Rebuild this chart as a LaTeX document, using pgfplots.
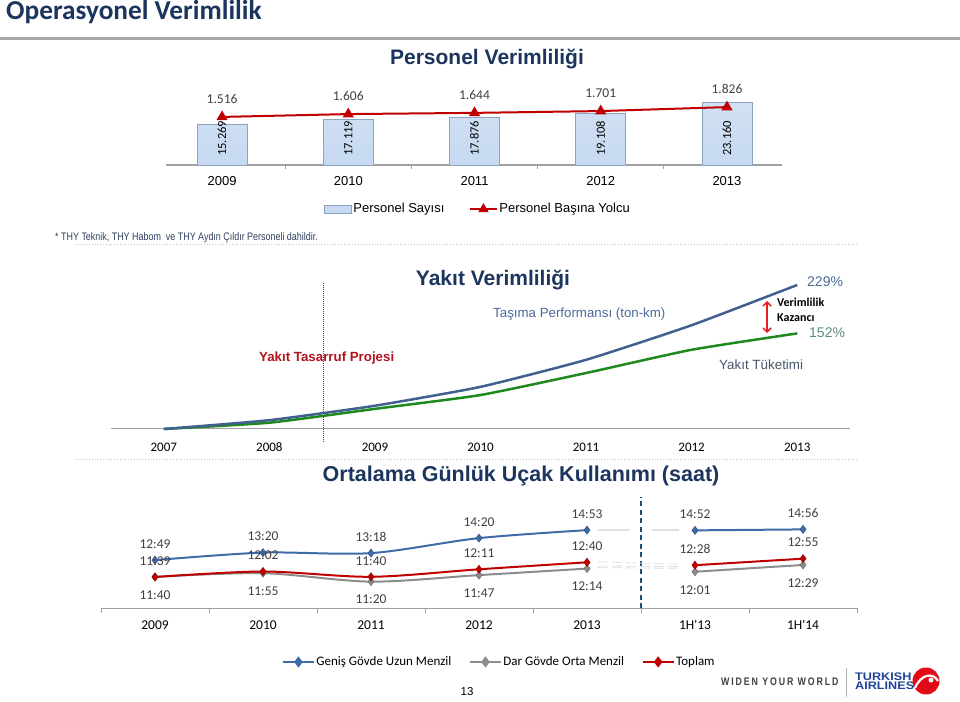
\documentclass[border=0pt]{standalone}
\usepackage{fontspec}
\setmainfont{Liberation Sans}
\newfontfamily\calfam{Carlito}
\newfontfamily\narrowfam[FakeStretch=0.82]{Liberation Sans}
\newfontfamily\logofam[FakeStretch=0.8,LetterSpace=17]{Liberation Sans}
\newfontfamily\widefam[FakeStretch=1.15]{Liberation Sans}
\usepackage{pgfplots}
\pgfplotsset{compat=1.18}
\usetikzlibrary{arrows.meta}

\newcommand\ar[1]{\fontsize{#1}{#1}\selectfont}
\newcommand\arb[1]{\bfseries\fontsize{#1}{#1}\selectfont}
\newcommand\cf[1]{\calfam\fontsize{#1}{#1}\selectfont}
\newcommand\cfb[1]{\calfam\bfseries\fontsize{#1}{#1}\selectfont}

\definecolor{navy}{HTML}{1C355E}
\definecolor{rulegray}{HTML}{A6A6A6}
\definecolor{axgray}{HTML}{A0A0A0}
\definecolor{barfill}{HTML}{C6D9F1}
\definecolor{bardraw}{HTML}{8DA3BF}
\definecolor{thyred}{HTML}{C00000}
\definecolor{tonblue}{HTML}{41608F}
\definecolor{fuelgreen}{HTML}{1E8A1E}
\definecolor{lblblue}{HTML}{4A6A9A}
\definecolor{lblgreen}{HTML}{5A8F75}
\definecolor{slate}{HTML}{44546A}
\definecolor{arrowred}{HTML}{E31E24}
\definecolor{projred}{HTML}{B0141E}
\definecolor{wbblue}{HTML}{3E6CA8}
\definecolor{nbgray}{HTML}{8C8C8C}
\definecolor{txtgray}{HTML}{404040}
\definecolor{dashblue}{HTML}{1F4E79}
\definecolor{footblue}{HTML}{2E3F5F}
\definecolor{thyblue}{HTML}{1F4496}
\definecolor{logored}{HTML}{E30A17}

\begin{document}
\begin{tikzpicture}[x=1pt,y=1pt]
\useasboundingbox (0,0) rectangle (960,701);

% slide header
\node[anchor=base west,inner sep=0,text=navy,font=\cfb{27.3}] at (6,681) {Operasyonel Verimlilik};
\draw[draw=rulegray,line width=2.5pt] (0,662.5) -- (960,662.5);

% ---------- Personel Verimliligi ----------
\node[anchor=base,inner sep=0,text=navy,font=\arb{21}] at (487,636) {Personel Verimliliği};

\begin{axis}[
  at={(166pt,536pt)}, anchor=south west, scale only axis,
  width=616pt, height=70pt,
  xmin=2008.556, xmax=2013.436, ymin=0, ymax=26070,
  axis y line=none, axis x line*=bottom, x axis line style={-},
  axis line style={draw=axgray, line width=1.2pt},
  xtick={2009,2010,2011,2012,2013},
  xticklabels={2009,2010,2011,2012,2013},
  xticklabel style={anchor=base, yshift=-21pt, font=\ar{13}, text=black},
  major tick length=0pt,
  extra x ticks={2009.5,2010.5,2011.5,2012.5},
  extra x tick labels={},
  extra x tick style={major tick length=4pt, tick align=outside, tick style={draw=axgray, line width=0.8pt}},
  clip=false,
]
\addplot[ybar, bar width=50pt, top color=barfill!80, bottom color=barfill, draw=bardraw, line width=0.8pt, forget plot]
  coordinates {(2009,15269) (2010,17119) (2011,17876) (2012,19108) (2013,23160)};
\addplot[draw=none, mark=none, forget plot, nodes near coords, point meta=explicit symbolic,
  every node near coord/.append style={rotate=90, anchor=west, inner sep=0pt, font=\cf{12.5}, text=black}]
  coordinates {(2009,3350) [15.269] (2010,3350) [17.119] (2011,3350) [17.876] (2012,3350) [19.108] (2013,3350) [23.160]};
\end{axis}

\begin{axis}[
  at={(166pt,536pt)}, anchor=south west, scale only axis,
  width=616pt, height=70pt,
  xmin=2008.556, xmax=2013.436, ymin=0, ymax=2208,
  hide axis, clip=false,
  legend columns=2,
  legend style={draw=none, fill=none, at={(0.506,-0.629)}, anchor=center, font=\ar{13},
    /tikz/every even column/.append style={column sep=23pt}, nodes={inner sep=1.5pt}},
]
\addplot[thyred, line width=2pt, mark=triangle*, mark size=4.5pt, mark options={fill=thyred}, forget plot,
  nodes near coords, point meta=explicit symbolic,
  every node near coord/.append style={anchor=center, yshift=18pt, font=\cf{13.5}, text=txtgray}]
  coordinates {(2009,1516) [1.516] (2010,1606) [1.606] (2011,1644) [1.644] (2012,1701) [1.701] (2013,1826) [1.826]};
\addlegendimage{legend image code/.code={\draw[fill=barfill,draw=bardraw,line width=0.8pt] (0pt,-4pt) rectangle (27pt,4pt);}}
\addlegendentry{Personel Sayısı}
\addlegendimage{legend image code/.code={\draw[thyred,line width=2pt,mark=triangle*,mark size=4pt,mark options={fill=thyred},mark repeat=2,mark phase=2] plot coordinates {(0pt,0pt) (13.5pt,0pt) (27pt,0pt)};}}
\addlegendentry{Personel Başına Yolcu}
\end{axis}

\node[anchor=base west,inner sep=0,text=footblue,font=\narrowfam\fontsize{10.9}{10.9}\selectfont] at (55,460.3) {* THY Teknik, THY Habom\ \ ve THY Aydın Çıldır Personeli dahildir.};
\draw[gray!45, dotted, line width=0.8pt] (75,457) -- (858,457);

% ---------- Yakit Verimliligi ----------
\node[anchor=base,inner sep=0,text=navy,font=\arb{21}] at (493,415) {Yakıt Verimliliği};
\draw[projred, densely dotted, line width=1pt] (323,418) -- (323,258);

\begin{axis}[
  at={(111pt,272pt)}, anchor=south west, scale only axis,
  width=739pt, height=150pt,
  xmin=2006.5, xmax=2013.5, ymin=0, ymax=238.5,
  axis y line=none, axis x line*=bottom, x axis line style={-},
  axis line style={draw=axgray, line width=1pt},
  xtick={2007,2008,2009,2010,2011,2012,2013},
  xticklabels={2007,2008,2009,2010,2011,2012,2013},
  xticklabel style={anchor=base, yshift=-22.5pt, font=\cf{13}, text=black},
  major tick length=0pt,
  clip=false,
]
\addplot[fuelgreen, line width=2.5pt, smooth, tension=0.3, mark=none]
  coordinates {(2007,0) (2008,10) (2009,32) (2010,54) (2011,89) (2012,126) (2013,152)};
\addplot[tonblue, line width=2.5pt, smooth, tension=0.3, mark=none]
  coordinates {(2007,0) (2008,14) (2009,37) (2010,67) (2011,110) (2012,165) (2013,229)};
\end{axis}

\node[anchor=base west,inner sep=0,text=projred,font=\arb{13.3}] at (259,339) {Yakıt Tasarruf Projesi};
\node[anchor=base west,inner sep=0,text=lblblue,font=\ar{13.3}] at (493,383) {Taşıma Performansı (ton-km)};
\node[anchor=base west,inner sep=0,text=slate,font=\ar{13.4}] at (719,331) {Yakıt Tüketimi};
\node[anchor=base west,inner sep=0,text=lblblue,font=\ar{14}] at (807,414) {229\%};
\node[anchor=base west,inner sep=0,text=lblgreen,font=\ar{14}] at (809,363) {152\%};
\node[anchor=base west,inner sep=0,text=black,font=\cfb{12}] at (777,394) {Verimlilik};
\node[anchor=base west,inner sep=0,text=black,font=\cfb{12}] at (777,379) {Kazancı};
\draw[arrowred, line width=1.5pt, {Straight Barb[length=4pt,width=8pt]}-{Straight Barb[length=4pt,width=8pt]}] (767,400) -- (767,368);
\draw[gray!45, dotted, line width=0.8pt] (75,242) -- (858,242);

% ---------- Ortalama Gunluk Ucak Kullanimi ----------
\node[anchor=base,inner sep=0,text=navy,font=\arb{21.5}] at (521,219) {Ortalama Günlük Uçak Kullanımı (saat)};

\begin{axis}[
  at={(101pt,93pt)}, anchor=south west, scale only axis,
  width=756pt, height=111pt,
  xmin=-0.5, xmax=6.5, ymin=571, ymax=1030,
  axis y line=none, axis x line*=bottom, x axis line style={-},
  axis line style={draw=axgray, line width=1pt},
  xtick={0,1,2,3,4,5,6},
  xticklabels={2009,2010,2011,2012,2013,1H'13,1H'14},
  xticklabel style={anchor=base, yshift=-21pt, font=\cf{13.5}, text=black},
  major tick length=0pt,
  extra x ticks={-0.5,0.5,1.5,2.5,3.5,4.5,5.5,6.5},
  extra x tick labels={},
  extra x tick style={major tick length=5pt, tick align=outside, tick style={draw=axgray, line width=0.8pt}},
  unbounded coords=jump, clip=false,
  legend columns=3,
  legend image code/.code={\draw[mark repeat=2,mark phase=2,#1] plot coordinates {(0pt,0pt) (15.5pt,0pt) (31pt,0pt)};},
  legend style={draw=none, fill=none, at={(0.5265,-0.486)}, anchor=center, font=\cf{13},
    /tikz/every even column/.append style={column sep=16pt}, nodes={inner sep=1.5pt}},
]
\draw[dashblue, line width=1.5pt, dash pattern=on 5pt off 3.5pt] (axis cs:4.5,571) -- (axis cs:4.5,1030);
\draw[gray!25, line width=0.8pt] (axis cs:4.1,896) -- (axis cs:4.4,896) (axis cs:4.1,892) -- (axis cs:4.4,892)
  (axis cs:4.6,896) -- (axis cs:4.85,896) (axis cs:4.6,892) -- (axis cs:4.85,892);
\draw[gray!25, line width=0.8pt, dash pattern=on 10pt off 4pt] (axis cs:4.1,762) -- (axis cs:4.85,752)
  (axis cs:4.1,745) -- (axis cs:4.85,742) (axis cs:4.1,738) -- (axis cs:4.85,735);
\addplot[wbblue, line width=2pt, smooth, mark=diamond*, mark size=4pt,
  mark options={fill=wbblue, draw=wbblue!80!black, line width=0.6pt}, forget plot,
  nodes near coords, point meta=explicit symbolic,
  every node near coord/.append style={anchor=center, yshift=16pt, font=\cf{13.5}, text=txtgray}]
  coordinates {(0,769) [12:49] (1,800) [13:20] (2,798) [13:18] (3,860) [14:20] (4,893) [14:53]
               (4.5,nan) [] (5,892) [14:52] (6,896) [14:56]};
\addplot[nbgray, line width=2pt, smooth, mark=diamond*, mark size=4pt,
  mark options={fill=nbgray, draw=nbgray!80!black, line width=0.6pt}, forget plot,
  nodes near coords, point meta=explicit symbolic,
  every node near coord/.append style={anchor=center, yshift=-18pt, font=\cf{13.5}, text=txtgray}]
  coordinates {(0,700) [11:40] (1,715) [11:55] (2,680) [11:20] (3,707) [11:47] (4,734) [12:14]
               (4.5,nan) [] (5,721) [12:01] (6,749) [12:29]};
\addplot[thyred, line width=2pt, smooth, mark=diamond*, mark size=4pt,
  mark options={fill=thyred, draw=thyred!80!black, line width=0.6pt}, forget plot,
  nodes near coords, point meta=explicit symbolic,
  every node near coord/.append style={anchor=center, yshift=16pt, font=\cf{13.5}, text=txtgray}]
  coordinates {(0,699) [11:39] (1,722) [12:02] (2,700) [11:40] (3,731) [12:11] (4,760) [12:40]
               (4.5,nan) [] (5,748) [12:28] (6,775) [12:55]};
\addlegendimage{wbblue, line width=2pt, mark=diamond*, mark size=4pt, mark options={fill=wbblue}}
\addlegendentry{Geniş Gövde Uzun Menzil}
\addlegendimage{nbgray, line width=2pt, mark=diamond*, mark size=4pt, mark options={fill=nbgray}}
\addlegendentry{Dar Gövde Orta Menzil}
\addlegendimage{thyred, line width=2pt, mark=diamond*, mark size=4pt, mark options={fill=thyred}}
\addlegendentry{Toplam}
\end{axis}

% page number and footer logo
\node[anchor=base,inner sep=0,font=\ar{11.5}] at (467,5.5) {13};
\node[anchor=base west,inner sep=0,text=txtgray,font=\logofam\bfseries\fontsize{11}{11}\selectfont] at (721,16) {WIDEN YOUR WORLD};
\draw[gray!60, line width=0.8pt] (846,4) -- (846,33);
\node[anchor=base west,inner sep=0,text=thyblue,font=\widefam\bfseries\fontsize{11}{11}\selectfont] at (855,21) {TURKISH};
\node[anchor=base west,inner sep=0,text=thyblue,font=\widefam\bfseries\fontsize{11}{11}\selectfont] at (855,11.7) {AIRLINES};
\fill[logored] (926,20) circle (13.5);
\draw[white, line width=2.2pt] (915,13) .. controls (921,27) and (933,29) .. (938,20);
\fill[white] (931,21) circle (2.5);
\end{tikzpicture}
\end{document}
